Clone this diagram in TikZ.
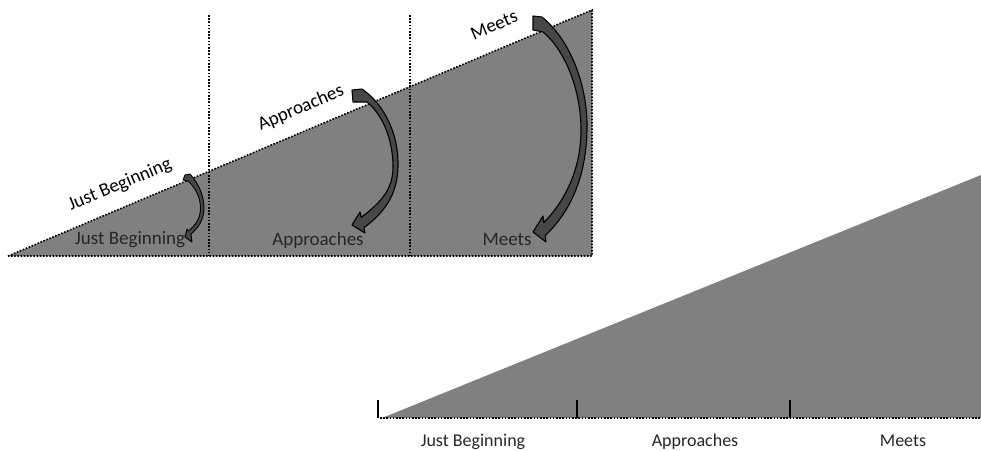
\documentclass[tikz,border=0pt]{standalone}
\usepackage{fontspec}
\setmainfont{Carlito}
\begin{document}
\begin{tikzpicture}[x=1pt,y=-1pt,
  dotline/.style={line width=1.6pt,dash pattern=on 1.6pt off 1.6pt,black},
  wedge/.style={fill=gray50},
  tick/.style={line width=2.6pt,black},
  lbl/.style={font=\fontsize{19}{19}\selectfont,text=black!85,inner sep=0pt,anchor=base},
  blbl/.style={font=\fontsize{18}{18}\selectfont,text=black!85,inner sep=0pt,anchor=base},
  rlbl/.style={font=\fontsize{19}{19}\selectfont,text=black,inner sep=0pt,rotate=22.8},
  curvearrow/.style={fill=black!72,draw=black,line width=1.1pt,line join=round}]
\definecolor{gray50}{RGB}{128,128,128}
\useasboundingbox (0,0) rectangle (981,450);
% ---- top triangle ----
\coordinate (tA) at (8,256);
\coordinate (tB) at (592,10);
\coordinate (tC) at (592,256);
\fill[wedge] (tA) -- (tB) -- (tC) -- cycle;
\draw[dotline] (tA) -- (tB) -- (tC) -- cycle;
\coordinate (d1t) at (209,15);
\coordinate (d1b) at (209,256);
\coordinate (d2t) at (410,15);
\coordinate (d2b) at (410,256);
\draw[dotline] (d1t) -- (d1b);
\draw[dotline] (d2t) -- (d2b);
% inner labels
\node[lbl] (in1) at (130,244) {Just Beginning};
\node[lbl] (in2) at (318,245) {Approaches};
\node[lbl] (in3) at (507,245) {Meets};
% rotated labels
\node[rlbl] (r1) at (120,185) {Just Beginning};
\node[rlbl] (r2) at (301,108) {Approaches};
\node[rlbl] (r3) at (494,25) {Meets};
% curved arrows
\draw[curvearrow] (533,16) -- (542,17) .. controls (570,40) and (588,85) .. (587,130)
  .. controls (586,175) and (572,210) .. (545.3,235.5) -- (546,242) -- (533,232) -- (543,216)
  -- (543.8,222.5) .. controls (566,200) and (581,168) .. (581,130)
  .. controls (581,90) and (565,50) .. (543,32) -- (533,30) -- cycle;
\draw[curvearrow] (352,90) -- (362,89) .. controls (385,105) and (399,135) .. (398,167)
  .. controls (397,195) and (385,212) .. (363.8,227.8) -- (365,233) -- (352,225) -- (360,212)
  -- (361.3,217.3) .. controls (380,203) and (393,190) .. (393,167)
  .. controls (393,140) and (383,115) .. (367,102) -- (353,102) -- cycle;
\draw[curvearrow,line width=0.9pt] (185,175) -- (190,174) .. controls (200,185) and (204,198) .. (204,208)
  .. controls (204,220) and (198,228) .. (191,234) -- (192,242) -- (185,237) -- (187,229)
  -- (188.5,231) .. controls (196,225) and (200.5,218) .. (200.5,208)
  .. controls (200.5,197) and (195,187) .. (188,181) -- (183,180) -- cycle;
% ---- bottom triangle ----
\coordinate (bA) at (382,418);
\coordinate (bB) at (981,175);
\coordinate (bC) at (981,418);
\fill[wedge] (bA) -- (bB) -- (bC) -- cycle;
\coordinate (bL) at (380,418);
\draw[dotline] (bL) -- (bC);
\coordinate (k1t) at (378,400);
\coordinate (k1b) at (378,418);
\coordinate (k2t) at (577,400);
\coordinate (k2b) at (577,418);
\coordinate (k3t) at (790,400);
\coordinate (k3b) at (790,418);
\draw[tick] (k1t) -- (k1b);
\draw[tick] (k2t) -- (k2b);
\draw[tick] (k3t) -- (k3b);
\node[blbl] (b1) at (473,446) {Just Beginning};
\node[blbl] (b2) at (695,446) {Approaches};
\node[blbl] (b3) at (903,446) {Meets};
\end{tikzpicture}
\end{document}
